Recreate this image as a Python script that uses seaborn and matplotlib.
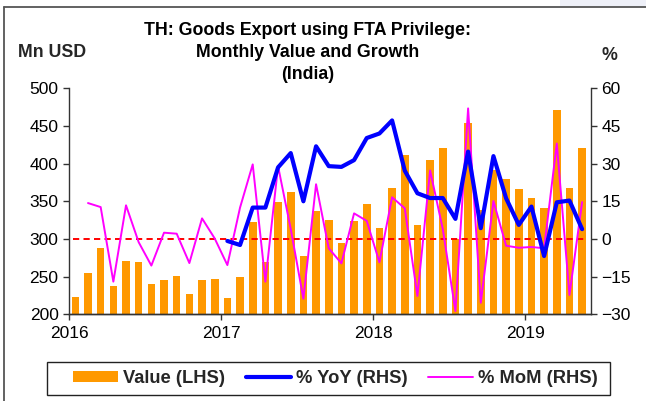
import numpy as np
import pandas as pd
import matplotlib
matplotlib.use("Agg")
import matplotlib.pyplot as plt
from matplotlib.patches import Patch, Rectangle
from matplotlib.lines import Line2D
import seaborn as sns

# ---------------- data ----------------
dates = pd.date_range("2016-01-01", periods=41, freq="MS")
value = [223, 255, 288, 238, 271, 269, 240, 246, 251, 227, 246, 247,
         221, 249, 323, 270, 349, 362, 277, 337, 325, 294, 324, 347,
         315, 367, 411, 318, 405, 421, 300, 454, 339, 391, 380, 366,
         354, 341, 471, 367, 421]
yoy = [np.nan] * 12 + [
    -0.8, -2.4, 12.5, 12.5, 28.5, 34.2, 15.0, 36.9, 29.0, 28.7, 31.4, 40.2,
    42.0, 47.2, 27.2, 18.2, 16.3, 16.3, 8.0, 34.8, 4.3, 33.0, 16.2, 5.6,
    12.9, -6.8, 14.6, 15.3, 3.9]
mom = [np.nan] + [
    14.3, 12.7, -17.0, 13.4, -1.3, -10.6, 2.5, 2.1, -9.6, 8.2, 0.2,
    -10.4, 12.5, 29.7, -17.0, 29.0, 4.0, -23.8, 21.8, -3.7, -9.7, 10.2, 7.2,
    -9.3, 16.6, 12.2, -22.7, 27.3, 4.0, -28.7, 52.0, -25.4, 15.1, -2.7, -3.5,
    -3.2, -3.7, 38.0, -22.3, 14.7]
year_labels = ["2016", "2017", "2018", "2019"]
labels = ["Value (LHS)", "% YoY (RHS)", "% MoM (RHS)"]

df = pd.DataFrame({"date": dates, "value": value, "yoy": yoy, "mom": mom})
df["x"] = (df["date"].dt.year - 2016) * 12 + df["date"].dt.month - 1 + 0.5

# ---------------- style ----------------
sns.set_theme(style="ticks")
plt.rcParams["font.family"] = ["Liberation Sans", "DejaVu Sans"]

ORANGE = "#FF9900"
BLUE = "#0000FF"
MAGENTA = "#FF00FF"
RED = "#FF0000"
SPINE = "#333333"

W, H = 646, 401
fig = plt.figure(figsize=(W / 100, H / 100), dpi=100)
fig.patch.set_facecolor("white")

L, R, T, B = 69, 591, 88.3, 314.3
ax = fig.add_axes([L / W, 1 - B / H, (R - L) / W, (B - T) / H])

sns.barplot(data=df, x="x", y="value", native_scale=True, width=0.6,
            color=ORANGE, saturation=1, edgecolor="none", ax=ax, zorder=2)

ax2 = ax.twinx()
ax2.hlines(0, 0.3, 40.7, colors=RED, linestyles=(0, (3.2, 2.2)), lw=1.4, zorder=1)
sns.lineplot(data=df, x="x", y="mom", color=MAGENTA, lw=1.4, ax=ax2, zorder=3)
sns.lineplot(data=df, x="x", y="yoy", color=BLUE, lw=3.0, ax=ax2, zorder=4)

ax.set_xlim(0, 41.2)
ax.set_ylim(200, 500)
ax2.set_ylim(-30, 60)
ax.set_xticks([0, 12, 24, 36])
ax.set_xticklabels(year_labels)
ax.set_yticks(np.arange(200, 501, 50))
ax2.set_yticks(np.arange(-30, 61, 15))
for a in (ax, ax2):
    a.set_xlabel("")
    a.set_ylabel("")
    a.spines["top"].set_visible(False)
    for s in ("left", "right", "bottom"):
        a.spines[s].set_color(SPINE)
        a.spines[s].set_linewidth(1.0)
    a.tick_params(direction="out", length=4.5, width=1.0, color=SPINE,
                  labelsize=12.5, labelcolor="black", pad=3)
ax.spines["right"].set_visible(False)
ax2.spines["left"].set_visible(False)
ax.tick_params(axis="x", pad=4)

# ---------------- titles ----------------
tkw = dict(ha="center", va="baseline", fontsize=12.8, fontweight="bold", color="black")
fig.text(308 / W, 1 - 35 / H, "TH: Goods Export using FTA Privilege:", **tkw)
fig.text(308 / W, 1 - 57 / H, "Monthly Value and Growth", **tkw)
fig.text(308 / W, 1 - 79 / H, "(India)", **tkw)
fig.text(18 / W, 1 - 57 / H, "Mn USD", ha="left", va="baseline",
         fontsize=12.8, fontweight="bold")
fig.text(609 / W, 1 - 60 / H, "%", ha="center", va="baseline",
         fontsize=12.8, fontweight="bold")

# ---------------- legend ----------------
handles = [Patch(facecolor=ORANGE, edgecolor="none"),
           Line2D([], [], color=BLUE, lw=3.0),
           Line2D([], [], color=MAGENTA, lw=1.4)]
leg = fig.legend(handles, labels, loc="center", bbox_to_anchor=(335.5 / W, 1 - 378.5 / H),
                 ncol=3, frameon=False,
                 prop=dict(weight="bold", size=13.2), handlelength=2.45,
                 handleheight=0.5, handletextpad=0.3, columnspacing=1.1,
                 borderpad=0, borderaxespad=0)
fig.add_artist(Rectangle((47 / W, 1 - 395 / H), (610 - 47) / W, 33 / H,
                         transform=fig.transFigure, facecolor="none",
                         edgecolor="#222222", lw=1.0))

# ---------------- outer frame ----------------
fig.add_artist(Rectangle((560 / W, 1 - 7 / H), 86 / W, 7 / H, transform=fig.transFigure,
                         facecolor="#eef0f8", edgecolor="none"))
fig.add_artist(Line2D([4 / W, 4 / W], [0, 1 - 7 / H], transform=fig.transFigure,
                      color="#555555", lw=1.3))
fig.add_artist(Line2D([4 / W, 1], [1 - 7 / H, 1 - 7 / H], transform=fig.transFigure,
                      color="#555555", lw=1.3))

fig.savefig("out.png", dpi=100)
